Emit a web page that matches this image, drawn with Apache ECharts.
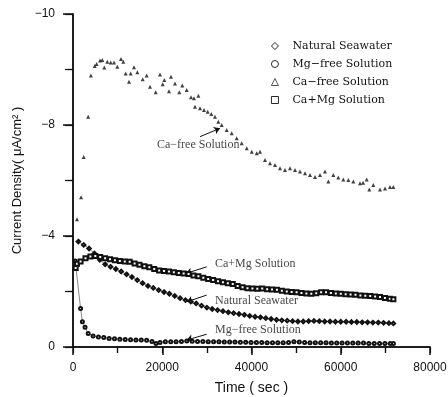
<!DOCTYPE html>
<html>
<head>
<meta charset="utf-8">
<script src="https://cdn.jsdelivr.net/npm/echarts@6/dist/echarts.min.js"></script>
<style>
  html, body { margin: 0; padding: 0; background: #fff; }
  #chart { width: 448px; height: 397px; }
</style>
</head>
<body>
<div id="chart"></div>
<script>
// 数据 (time in sec, current density in μA/cm²)
const seriesNames = ['Natural Seawater', 'Mg−free Solution', 'Ca−free Solution', 'Ca+Mg Solution'];
const legendIcons = ['diamond', 'circle', 'triangle', 'rect'];

const naturalSeawater = [
    [1200, -3.80], [2400, -3.68], [3600, -3.55], [4800, -3.37], [6000, -3.14], [7200, -2.98],
    [8400, -2.89], [9600, -2.81], [10800, -2.72], [12000, -2.62], [13200, -2.52], [14400, -2.41],
    [15600, -2.30], [16800, -2.20], [18000, -2.13], [19200, -2.05], [20400, -1.98], [21600, -1.92],
    [22800, -1.84], [24000, -1.76], [25200, -1.69], [26400, -1.64], [27600, -1.57], [28800, -1.49],
    [30000, -1.42], [31200, -1.37], [32400, -1.33], [33600, -1.29], [34800, -1.25], [36000, -1.22],
    [37200, -1.19], [38400, -1.16], [39600, -1.12], [40800, -1.09], [42000, -1.07], [43200, -1.04],
    [44400, -1.01], [45600, -0.98], [46800, -0.96], [48000, -0.95], [49200, -0.93], [50400, -0.92],
    [51600, -0.92], [52800, -0.93], [54000, -0.94], [55200, -0.93], [56400, -0.92], [57600, -0.92],
    [58800, -0.91], [60000, -0.91], [61200, -0.91], [62400, -0.90], [63600, -0.90], [64800, -0.89],
    [66000, -0.89], [67200, -0.88], [68400, -0.88], [69600, -0.87], [70800, -0.86], [71800, -0.85]
];

const mgFree = [
    [500, -3.10], [1700, -1.39], [2100, -0.91], [2700, -0.71], [3400, -0.49], [4500, -0.40],
    [5700, -0.36], [6900, -0.34], [8100, -0.31], [9300, -0.30], [10500, -0.28], [11700, -0.27],
    [12900, -0.26], [14100, -0.25], [15300, -0.25], [16500, -0.24], [17700, -0.20], [18600, -0.13],
    [19500, -0.16], [20700, -0.19], [21900, -0.19], [23100, -0.19], [24300, -0.20], [25500, -0.22],
    [26700, -0.21], [27900, -0.20], [29100, -0.20], [30300, -0.19], [31500, -0.19], [32700, -0.19],
    [33900, -0.18], [35100, -0.18], [36300, -0.18], [37500, -0.17], [38700, -0.17], [39900, -0.16],
    [41100, -0.16], [42300, -0.16], [43500, -0.15], [44700, -0.15], [45900, -0.15], [47100, -0.15],
    [48300, -0.16], [49500, -0.19], [50700, -0.18], [51900, -0.16], [53100, -0.15], [54300, -0.15],
    [55500, -0.15], [56700, -0.15], [57900, -0.14], [59100, -0.14], [60300, -0.14], [61500, -0.14],
    [62700, -0.14], [63900, -0.14], [65100, -0.14], [66300, -0.13], [67500, -0.13], [68700, -0.13],
    [69900, -0.13], [71100, -0.13], [71800, -0.13]
];

const caFree = [
    [900, -4.60], [1800, -5.40], [2400, -6.85], [3400, -8.30], [4000, -9.78], [4860, -10.13],
    [5300, -10.20], [6050, -10.32], [6570, -10.34], [7020, -10.07], [7690, -10.28], [8450, -10.25],
    [9190, -10.25], [9930, -10.10], [10760, -10.38], [11270, -10.28], [11810, -9.86], [12550, -9.56],
    [12930, -9.86], [13670, -10.08], [14410, -9.90], [15620, -9.65], [16500, -9.78], [17260, -9.38],
    [18530, -9.18], [19500, -9.82], [20100, -9.47], [20460, -9.62], [21510, -9.22], [21960, -9.74],
    [22860, -9.50], [23820, -9.18], [24500, -9.42], [25480, -9.26], [26440, -9.00], [27110, -8.96],
    [27340, -8.66], [28090, -9.05], [28460, -8.60], [29360, -8.54], [30180, -8.48], [31000, -8.40],
    [31820, -8.30], [32570, -8.12], [33320, -8.00], [34440, -7.82], [35560, -7.70], [36680, -7.52],
    [37800, -7.34], [38930, -7.16], [40050, -7.04], [41170, -6.98], [41900, -7.04], [43030, -6.74],
    [44150, -6.62], [45270, -6.56], [46390, -6.44], [47510, -6.38], [48630, -6.44], [49750, -6.38],
    [50870, -6.32], [51990, -6.26], [53110, -6.20], [54230, -6.13], [55350, -6.20], [56470, -6.32],
    [57220, -5.96], [58340, -6.20], [59460, -6.11], [60580, -6.04], [61700, -6.02], [62820, -5.96],
    [64320, -5.90], [65000, -5.92], [65810, -6.04], [66400, -5.68], [67300, -5.84], [68800, -5.68],
    [69920, -5.71], [71040, -5.77], [71780, -5.77]
];

const caMg = [
    [600, -2.85], [900, -3.00], [1700, -3.08], [2800, -3.20], [3900, -3.26], [5000, -3.28],
    [6100, -3.24], [7200, -3.20], [8300, -3.16], [9400, -3.13], [10500, -3.10], [11600, -3.08],
    [12700, -3.07], [13800, -3.01], [14900, -2.96], [16000, -2.91], [17100, -2.87], [18200, -2.81],
    [19300, -2.76], [20400, -2.74], [21500, -2.72], [22600, -2.69], [23700, -2.67], [24800, -2.65],
    [25900, -2.63], [27000, -2.58], [28100, -2.55], [29200, -2.50], [30300, -2.45], [31400, -2.41],
    [32500, -2.37], [33600, -2.33], [34700, -2.30], [35800, -2.27], [36900, -2.20], [38000, -2.15],
    [39100, -2.12], [40200, -2.11], [41300, -2.10], [42400, -2.11], [43500, -2.08], [44600, -2.07],
    [45700, -2.06], [46800, -2.03], [47900, -2.00], [49000, -1.98], [50100, -1.97], [51200, -1.95],
    [52300, -1.93], [53400, -1.92], [54500, -1.94], [55600, -1.97], [56700, -1.97], [57800, -1.95],
    [58900, -1.93], [60000, -1.92], [61100, -1.90], [62200, -1.89], [63300, -1.88], [64400, -1.86],
    [65500, -1.85], [66600, -1.84], [67700, -1.82], [68800, -1.80], [69900, -1.77], [71000, -1.74],
    [71800, -1.72]
];

// 坐标轴刻度
const xTickLabels = ['0', '20000', '40000', '60000', '80000'];
const yTickValues = [0, -4, -8, -12];
const yTickLabels = ['0', '−4', '−8', '−10'];

// 图中标注
const annotationText = ['Ca−free Solution', 'Ca+Mg Solution', 'Natural Seawater', 'Mg−free Solution'];
const annotationAt = [[18820, -7.28], [31820, -2.99], [31820, -1.67], [31820, -0.61]];
const arrowFrom = [[28460, -7.58], [29960, -2.89], [29960, -1.87], [29960, -0.46]];
const arrowTo = [[32940, -7.88], [25320, -2.65], [25480, -1.63], [25480, -0.25]];

const ink = '#111';
const serif = '"Liberation Serif", "DejaVu Serif", serif';
const sans = '"Liberation Sans", Arial, sans-serif';

const chart = echarts.init(document.getElementById('chart'));

const option = {
    backgroundColor: '#fff',
    animation: false,
    grid: { left: 73, right: 18, top: 14, bottom: 50, outerBoundsMode: 'none' },
    legend: {
        orient: 'vertical',
        left: 271,
        top: 40,
        padding: 0,
        itemWidth: 7,
        itemHeight: 7,
        itemGap: 6,
        textStyle: {
            fontFamily: '"DejaVu Serif", serif', fontSize: 11, lineHeight: 12,
            color: ink, padding: [0, 0, 0, 9]
        },
        data: seriesNames.map((n, i) => ({
            name: n,
            icon: legendIcons[i],
            itemStyle: { color: '#fff', borderColor: ink, borderWidth: 0.9 }
        }))
    },
    xAxis: [
        {
            type: 'value',
            min: 0,
            max: 80000,
            interval: 20000,
            name: 'Time ( sec )',
            nameLocation: 'middle',
            nameGap: 34,
            nameTextStyle: { fontFamily: sans, fontSize: 14, color: ink },
            axisLine: { lineStyle: { color: ink, width: 1.5 } },
            axisTick: { inside: false, length: 8, lineStyle: { color: ink, width: 1.5 } },
            minorTick: { show: true, splitNumber: 2, length: 6, lineStyle: { color: ink, width: 1.2 } },
            axisLabel: {
                fontFamily: sans, fontSize: 12, color: ink, margin: 15,
                formatter: v => xTickLabels[Math.round(v / 20000)]
            },
            splitLine: { show: false }
        },
        {
            type: 'value',
            position: 'top',
            min: 0,
            max: 80000,
            interval: 10000,
            axisLine: { lineStyle: { color: ink, width: 1.5 } },
            axisTick: { inside: true, length: 6, lineStyle: { color: ink, width: 1.2 } },
            axisLabel: { show: false },
            splitLine: { show: false }
        }
    ],
    yAxis: [
        {
            type: 'value',
            min: -12,
            max: 0,
            interval: 4,
            inverse: true,
            name: 'Current Density( μA/cm² )',
            nameLocation: 'middle',
            nameGap: 42,
            nameTextStyle: { fontFamily: sans, fontSize: 13, color: ink },
            axisLine: { lineStyle: { color: ink, width: 1.5 } },
            axisTick: { inside: false, length: 10, lineStyle: { color: ink, width: 1.5 } },
            minorTick: { show: true, splitNumber: 2, length: 5, lineStyle: { color: ink, width: 1.2 } },
            axisLabel: {
                fontFamily: sans, fontSize: 12, color: ink, margin: 18,
                formatter: v => yTickLabels[yTickValues.indexOf(v)]
            },
            splitLine: { show: false }
        },
        {
            type: 'value',
            position: 'right',
            min: -12,
            max: 0,
            interval: 2,
            inverse: true,
            axisLine: { lineStyle: { color: ink, width: 1.5 } },
            axisTick: { inside: true, length: 8, lineStyle: { color: ink, width: 1.2 } },
            axisLabel: { show: false },
            splitLine: { show: false }
        }
    ],
    series: [
        {
            name: seriesNames[0],
            type: 'line',
            data: naturalSeawater,
            symbol: 'emptyDiamond',
            symbolSize: 3.5,
            showAllSymbol: true,
            itemStyle: { color: ink, borderWidth: 0.6 },
            lineStyle: { color: ink, width: 0.5 }
        },
        {
            name: seriesNames[1],
            type: 'line',
            data: mgFree,
            symbol: 'emptyCircle',
            symbolSize: 3,
            showAllSymbol: true,
            itemStyle: { color: ink, borderWidth: 0.6 },
            lineStyle: { color: ink, width: 0.5 }
        },
        {
            name: seriesNames[2],
            type: 'scatter',
            data: caFree,
            symbol: 'triangle',
            symbolSize: 4,
            itemStyle: { color: ink }
        },
        {
            name: seriesNames[3],
            type: 'line',
            data: caMg,
            symbol: 'emptyRect',
            symbolSize: 4,
            showAllSymbol: true,
            itemStyle: { color: ink, borderWidth: 0.8 },
            lineStyle: { color: ink, width: 0, opacity: 0 }
        },
        // 标注箭头
        {
            name: 'arrows',
            type: 'lines',
            coordinateSystem: 'cartesian2d',
            symbol: ['none', 'arrow'],
            symbolSize: 6,
            lineStyle: { color: ink, width: 1, opacity: 1 },
            data: arrowFrom.map((p, i) => ({ coords: [p, arrowTo[i]] })),
            silent: true
        },
        // 标注文字
        {
            name: 'labels',
            type: 'scatter',
            symbolSize: 0,
            data: annotationAt.map((p, i) => ({ value: p, text: annotationText[i] })),
            label: {
                show: true,
                position: 'right',
                distance: 0,
                fontFamily: serif,
                fontSize: 12,
                color: ink,
                formatter: p => p.data.text
            },
            silent: true
        }
    ]
};

chart.setOption(option);
window.addEventListener('resize', () => chart.resize());
</script>
</body>
</html>
